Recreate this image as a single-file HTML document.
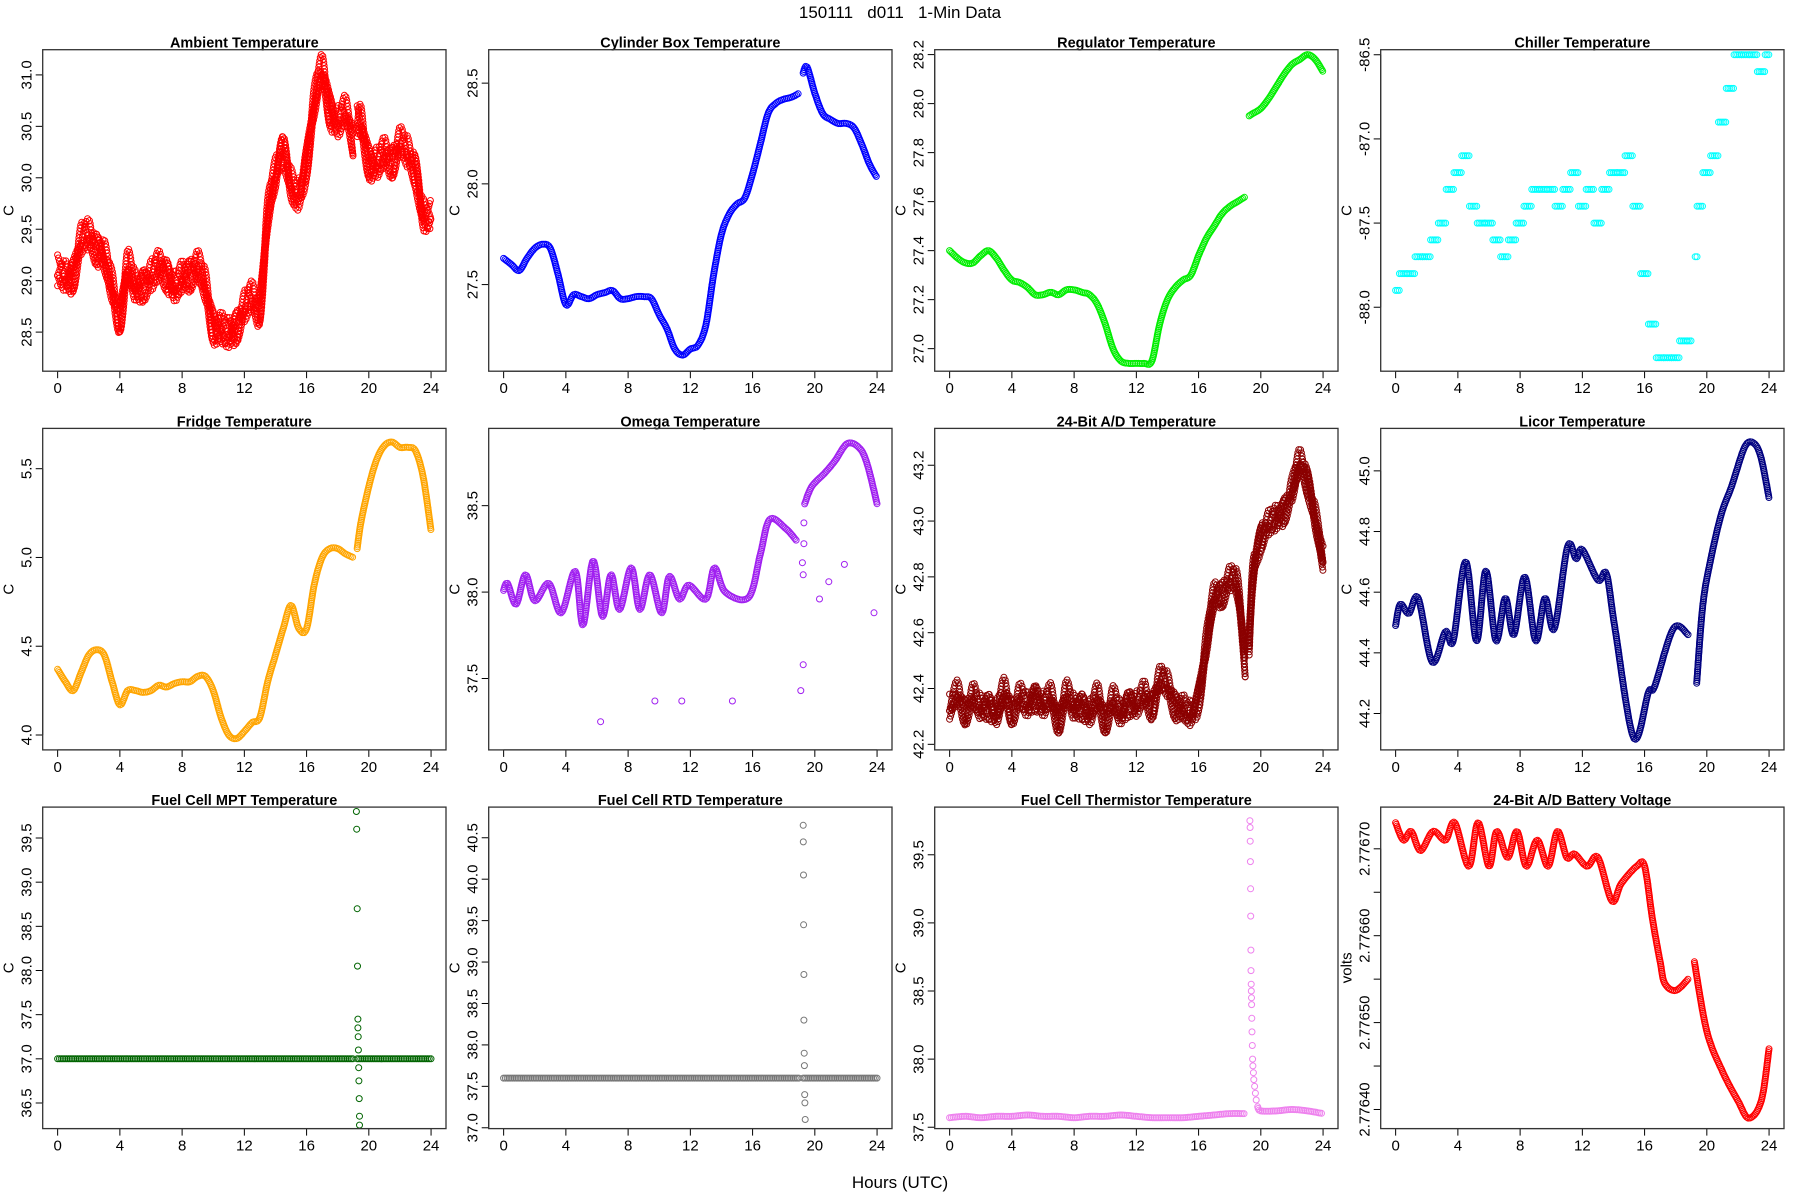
<!DOCTYPE html>
<html><head><meta charset="utf-8"><title>150111 d011 1-Min Data</title>
<style>
html,body{margin:0;padding:0;background:#fff;}
svg{display:block;font-family:"Liberation Sans",Arial,sans-serif;}
</style></head>
<body>
<svg id="chart" width="1800" height="1200" viewBox="0 0 1800 1200" xmlns="http://www.w3.org/2000/svg">
<text x="900" y="18" text-anchor="middle" font-size="17" fill="#000" xml:space="preserve">150111   d011   1-Min Data</text>
<text x="900" y="1188" text-anchor="middle" font-size="17" fill="#000">Hours (UTC)</text>
</svg>
<script>
// ---- data ----
const grid = [0,0.5,1,1.5,2,2.5,3,3.5,4,4.5,5,5.5,6,6.5,7,7.5,8,8.5,9,9.5,10,10.5,11,11.5,12,12.5,13,13.5,14,14.5,15,15.5,16,16.5,17,17.5,18,18.5,19,19.25,19.5,20,20.5,21,21.5,22,22.5,23,23.5,24];
const xTicks = [0,4,8,12,16,20,24];

const ambientVals = [29.05,29.0,29.1,29.35,29.4,29.35,29.2,28.9,28.7,29.1,28.9,29.0,29.0,29.1,29.1,28.9,29.0,29.1,29.1,28.9,28.6,28.5,28.45,28.6,28.7,28.8,28.8,29.6,30.0,30.3,29.9,29.8,30.2,30.7,31.0,30.7,30.5,30.6,30.4,30.5,30.5,30.2,30.1,30.2,30.2,30.3,30.2,30.1,29.6,29.6];
const cylinderVals = [27.63,27.6,27.57,27.63,27.68,27.7,27.68,27.55,27.4,27.45,27.44,27.43,27.45,27.46,27.47,27.43,27.43,27.44,27.44,27.43,27.35,27.28,27.18,27.15,27.18,27.2,27.3,27.55,27.75,27.85,27.9,27.93,28.05,28.2,28.35,28.4,28.42,28.43,28.45,28.55,28.58,28.45,28.35,28.32,28.3,28.3,28.28,28.2,28.1,28.03];
const regulatorVals = [27.4,27.37,27.35,27.35,27.38,27.4,27.37,27.32,27.28,27.27,27.25,27.22,27.22,27.23,27.22,27.24,27.24,27.23,27.22,27.18,27.1,27.0,26.95,26.94,26.94,26.94,26.95,27.1,27.2,27.25,27.28,27.3,27.38,27.45,27.5,27.55,27.58,27.6,27.62,27.95,27.96,27.98,28.02,28.07,28.12,28.16,28.18,28.2,28.18,28.13];
const chillerVals = [-87.9,-87.8,-87.8,-87.7,-87.7,-87.6,-87.5,-87.3,-87.2,-87.1,-87.4,-87.5,-87.5,-87.6,-87.7,-87.6,-87.5,-87.4,-87.3,-87.3,-87.3,-87.4,-87.3,-87.2,-87.4,-87.3,-87.5,-87.3,-87.2,-87.2,-87.1,-87.4,-87.8,-88.1,-88.3,-88.3,-88.3,-88.2,-88.2,-87.7,-87.4,-87.2,-87.1,-86.9,-86.7,-86.5,-86.5,-86.5,-86.6,-86.5];
const fridgeVals = [4.37,4.3,4.25,4.35,4.45,4.48,4.45,4.3,4.17,4.25,4.25,4.24,4.25,4.28,4.27,4.29,4.3,4.3,4.33,4.33,4.25,4.1,4.0,3.98,4.02,4.07,4.1,4.3,4.45,4.6,4.73,4.6,4.6,4.85,5.0,5.05,5.05,5.02,5.0,5.05,5.2,5.4,5.55,5.63,5.65,5.62,5.62,5.6,5.45,5.15];

const omegaHours = [0,0.25,0.8,1.4,2.0,2.9,3.7,4.6,5.1,5.75,6.35,6.9,7.45,8.2,8.75,9.4,10.15,10.65,11.3,11.9,13.0,13.55,14.25,15.75,16.5,17.1,18.1,18.8,19.35,19.8,20.65,21.3,22.1,22.9,23.4,24];
const omegaVals = [38.01,38.05,37.93,38.1,37.95,38.05,37.88,38.12,37.81,38.18,37.86,38.1,37.9,38.14,37.9,38.1,37.88,38.09,37.96,38.04,37.96,38.14,38.0,37.97,38.22,38.42,38.37,38.3,38.51,38.61,38.69,38.76,38.86,38.83,38.73,38.51];
const omegaOutHours = [6.23,9.72,11.45,14.7,19.1,19.25,19.25,19.2,19.3,19.3,20.3,20.9,21.9,23.8];
const omegaOutVals = [37.25,37.37,37.37,37.37,37.43,37.58,38.1,38.17,38.28,38.4,37.96,38.06,38.16,37.88];

const adTempVals = [42.32,42.37,42.33,42.36,42.32,42.35,42.3,42.38,42.33,42.36,42.33,42.38,42.33,42.36,42.3,42.37,42.32,42.35,42.3,42.36,42.3,42.35,42.3,42.36,42.33,42.37,42.35,42.42,42.4,42.35,42.32,42.3,42.38,42.55,42.72,42.75,42.78,42.75,42.5,42.55,42.8,42.95,42.98,43.0,43.05,43.1,43.2,43.15,43.0,42.85];

const licorHours = [0,0.3,0.85,1.45,2.35,3.2,3.7,4.5,5.2,5.8,6.45,7.05,7.6,8.3,9.0,9.6,10.2,11.05,11.6,12.0,13.0,13.55,14.1,15.3,16.25,16.65,17.85,18.8,19.35,19.75,20.3,20.95,21.6,22.45,23.05,23.5,24];
const licorVals = [44.49,44.56,44.53,44.58,44.37,44.47,44.44,44.70,44.44,44.67,44.44,44.58,44.46,44.65,44.44,44.58,44.48,44.75,44.71,44.74,44.64,44.66,44.48,44.12,44.27,44.29,44.48,44.46,44.30,44.56,44.72,44.86,44.95,45.08,45.09,45.04,44.91];

const mptVals = grid.map(() => 37.0);
const mptOutHours = [19.2,19.22,19.25,19.27,19.3,19.3,19.32,19.33,19.35,19.36,19.38,19.4,19.4];
const mptOutVals = [39.8,39.6,38.7,38.05,37.45,37.35,37.25,37.1,36.9,36.75,36.55,36.35,36.25];

const rtdVals = grid.map(() => 37.6);
const rtdOutHours = [19.25,19.26,19.27,19.28,19.3,19.3,19.32,19.33,19.35,19.36,19.38];
const rtdOutVals = [40.65,40.45,40.05,39.45,38.85,38.3,37.9,37.75,37.4,37.3,37.1];

const thermHours = [0,1,2,3,4,5,6,7,8,9,10,11,12,13,14,15,16,17,18,19];
const thermVals = [37.57,37.58,37.57,37.58,37.58,37.59,37.58,37.58,37.57,37.58,37.58,37.59,37.58,37.57,37.57,37.57,37.58,37.59,37.6,37.6];
const thermHours2 = [19.8,20,21,22,23,24];
const thermVals2 = [37.65,37.62,37.62,37.63,37.62,37.6];
const thermSpikeHours = [19.3,19.31,19.32,19.33,19.34,19.35,19.36,19.37,19.38,19.39,19.4,19.41,19.42,19.43,19.45,19.47,19.49,19.52,19.55,19.6,19.65,19.7];
const thermSpikeVals = [39.75,39.7,39.6,39.45,39.25,39.05,38.8,38.65,38.55,38.5,38.45,38.4,38.3,38.2,38.1,38.0,37.95,37.9,37.85,37.8,37.75,37.7];

const battHours = [0,0.5,1,1.6,2.4,3.2,3.8,4.7,5.3,6,6.5,7.2,7.8,8.4,9.1,9.8,10.4,11,11.5,12.3,13,13.9,14.5,15.5,16,16.5,17,17.3,18,18.8,19.2,20,21,22,22.7,23.5,24];
const battVals = [2.77673,2.77671,2.77672,2.776698,2.77672,2.77671,2.77673,2.77668,2.77673,2.77668,2.77672,2.77669,2.77672,2.77668,2.77671,2.77668,2.77672,2.77669,2.776694,2.77668,2.77669,2.77664,2.77666,2.77668,2.77668,2.77662,2.77657,2.776545,2.776537,2.77655,2.77657,2.77649,2.776444,2.77641,2.77639,2.77641,2.77647];

// ---- panel config (layout/style) ----
const panels = [
 {name:'ambient',title:'Ambient Temperature',col:'#FF0000',h:grid,v:ambientVals,gap:19,top:31.245,bot:28.12,ticks:[28.5,29.0,29.5,30.0,30.5,31.0],lab:['28.5','29.0','29.5','30.0','30.5','31.0'],yl:'C',spread:0.2},
 {name:'cylinder-box',title:'Cylinder Box Temperature',col:'#0000FF',h:grid,v:cylinderVals,gap:19,top:28.666,bot:27.07,ticks:[27.5,28.0,28.5],lab:['27.5','28.0','28.5'],yl:'C'},
 {name:'regulator',title:'Regulator Temperature',col:'#00EE00',h:grid,v:regulatorVals,gap:19,top:28.22,bot:26.908,ticks:[27.0,27.2,27.4,27.6,27.8,28.0,28.2],lab:['27.0','27.2','27.4','27.6','27.8','28.0','28.2'],yl:'C'},
 {name:'chiller',title:'Chiller Temperature',col:'#00FFFF',h:grid,v:chillerVals,gap:19,top:-86.47,bot:-88.38,ticks:[-88.0,-87.5,-87.0,-86.5],lab:['-88.0','-87.5','-87.0','-86.5'],yl:'C',step:true},
 {name:'fridge',title:'Fridge Temperature',col:'#FFA500',h:grid,v:fridgeVals,gap:19,top:5.727,bot:3.916,ticks:[4.0,4.5,5.0,5.5],lab:['4.0','4.5','5.0','5.5'],yl:'C'},
 {name:'omega',title:'Omega Temperature',col:'#A020F0',h:omegaHours,v:omegaVals,gap:18.8,top:38.947,bot:37.087,ticks:[37.5,38.0,38.5],lab:['37.5','38.0','38.5'],yl:'C',oh:omegaOutHours,ov:omegaOutVals},
 {name:'ad-temperature',title:'24-Bit A/D Temperature',col:'#8B0000',h:grid,v:adTempVals,gap:19,top:43.332,bot:42.18,ticks:[42.2,42.4,42.6,42.8,43.0,43.2],lab:['42.2','42.4','42.6','42.8','43.0','43.2'],yl:'C',spread:0.06},
 {name:'licor',title:'Licor Temperature',col:'#000080',h:licorHours,v:licorVals,gap:18.8,top:45.14,bot:44.08,ticks:[44.2,44.4,44.6,44.8,45.0],lab:['44.2','44.4','44.6','44.8','45.0'],yl:'C'},
 {name:'fuel-cell-mpt',title:'Fuel Cell MPT Temperature',col:'#006400',h:grid,v:mptVals,gap:19,top:39.85,bot:36.21,ticks:[36.5,37.0,37.5,38.0,38.5,39.0,39.5],lab:['36.5','37.0','37.5','38.0','38.5','39.0','39.5'],yl:'C',oh:mptOutHours,ov:mptOutVals},
 {name:'fuel-cell-rtd',title:'Fuel Cell RTD Temperature',col:'#777777',h:grid,v:rtdVals,gap:19,top:40.87,bot:36.99,ticks:[37.0,37.5,38.0,38.5,39.0,39.5,40.0,40.5],lab:['37.0','37.5','38.0','38.5','39.0','39.5','40.0','40.5'],yl:'C',oh:rtdOutHours,ov:rtdOutVals},
 {name:'fuel-cell-thermistor',title:'Fuel Cell Thermistor Temperature',col:'#EE82EE',h:thermHours.concat(thermHours2),v:thermVals.concat(thermVals2),gap:19,top:39.85,bot:37.49,ticks:[37.5,38.0,38.5,39.0,39.5],lab:['37.5','38.0','38.5','39.0','39.5'],yl:'C',oh:thermSpikeHours,ov:thermSpikeVals},
 {name:'battery-voltage',title:'24-Bit A/D Battery Voltage',col:'#FF0000',h:battHours,v:battVals,gap:18.8,top:2.776748,bot:2.776378,ticks:[2.7764,2.77645,2.7765,2.77655,2.7766,2.77665,2.7767],lab:['2.77640','','2.77650','','2.77660','','2.77670'],yl:'volts'}
];

const NS='http://www.w3.org/2000/svg';
const svg=document.getElementById('chart');
function mk(tag,attrs,parent){const e=document.createElementNS(NS,tag);for(const k in attrs)e.setAttribute(k,attrs[k]);(parent||svg).appendChild(e);return e;}
function smoothPath(pts){
  let d=`M${pts[0][0]},${pts[0][1]}`;
  for(let i=0;i<pts.length-1;i++){
    const p0=pts[Math.max(0,i-1)],p1=pts[i],p2=pts[i+1],p3=pts[Math.min(pts.length-1,i+2)];
    const c1x=p1[0]+(p2[0]-p0[0])/6,c1y=p1[1]+(p2[1]-p0[1])/6;
    const c2x=p2[0]-(p3[0]-p1[0])/6,c2y=p2[1]-(p3[1]-p1[1])/6;
    d+=`C${c1x},${c1y} ${c2x},${c2y} ${p2[0]},${p2[1]}`;
  }
  return d;
}

panels.forEach((p,i)=>{
  const col=i%4,row=Math.floor(i/4);
  const L=42.7+446*col, W=403.3, T=49.7+378.7*row, H=321.5;
  const xs=h=>L+(h+0.96)/25.92*W;
  const ys=v=>T+(p.top-v)/(p.top-p.bot)*H;
  const g=mk('g',{});
  
  

  const t=mk('text',{x:L+W/2,y:T-2,'text-anchor':'middle','font-size':'14.5','font-weight':'bold',fill:'#000'},g);
  t.textContent=p.title;
  
  

  const xa=mk('g',{},g);
  
  
  mk('line',{x1:xs(0),x2:xs(24),y1:T+H,y2:T+H,stroke:'#000','stroke-width':1},xa);
  xTicks.forEach(h=>{
    mk('line',{x1:xs(h),x2:xs(h),y1:T+H,y2:T+H+7,stroke:'#000','stroke-width':1},xa);
    const tl=mk('text',{x:xs(h),y:T+H+22,'text-anchor':'middle','font-size':'15',fill:'#000'},xa);
    tl.textContent=String(h);
    
    
  });
  const ya=mk('g',{},g);
  
  
  mk('line',{x1:L,x2:L,y1:ys(p.ticks[0]),y2:ys(p.ticks[p.ticks.length-1]),stroke:'#000','stroke-width':1},ya);
  p.ticks.forEach((v,k)=>{
    const y=ys(v);
    mk('line',{x1:L-7,x2:L,y1:y,y2:y,stroke:'#000','stroke-width':1},ya);
    if(p.lab[k]){
      const tl=mk('text',{x:0,y:0,'text-anchor':'middle','font-size':'15',fill:'#000',transform:`translate(${L-11},${y}) rotate(-90)`},ya);
      tl.textContent=p.lab[k];
      
      
    }
  });
  const yl=mk('text',{x:0,y:0,'text-anchor':'middle','font-size':'15',fill:'#000',transform:`translate(${L-29},${T+H/2}) rotate(-90)`},g);
  yl.textContent=p.yl;
  
  

  const sg=mk('g',{},g);
  
  
  const dot=(x,y)=>mk('circle',{cx:x.toFixed(1),cy:y.toFixed(1),r:3,fill:'none',stroke:p.col,'stroke-width':1},sg);
  const segs=[[],[]];
  p.h.forEach((h,k)=>{segs[h<=p.gap?0:1].push([h,p.v[k]]);});
  segs.forEach(seg=>{
    if(seg.length<2)return;
    if(p.step){
      seg.forEach((pt,k)=>{
        const x0=k?(xs(seg[k-1][0])+xs(pt[0]))/2:xs(pt[0]);
        const x1=k<seg.length-1?(xs(seg[k+1][0])+xs(pt[0]))/2:xs(pt[0]);
        const y=ys(pt[1]);
        for(let x=x0;x<=x1;x+=1.8)dot(x,y);
      });
      return;
    }
    const offs=p.spread?[-p.spread,-p.spread/2,0,p.spread/2,p.spread]:[0];
    offs.forEach((o,oi)=>{
      const pts=seg.map((pt,k)=>[xs(pt[0]),ys(pt[1]+(p.spread?o*((k+oi)%3-1):0))]);
      const path=mk('path',{d:smoothPath(pts),fill:'none',stroke:'none'},sg);
      const len=path.getTotalLength();
      const step=p.spread?3.2:1.8;
      for(let s=0;s<=len;s+=step){const q=path.getPointAtLength(s);dot(q.x,q.y);}
    });
  });
  if(p.oh){
    p.oh.forEach((h,k)=>{
      const c=dot(xs(h),ys(p.ov[k]));
      
      
    });
  }
  const box=mk('rect',{x:L,y:T,width:W,height:H,fill:'none',stroke:'#333','stroke-width':1.3},g);
  
  
});
</script>
</body></html>
